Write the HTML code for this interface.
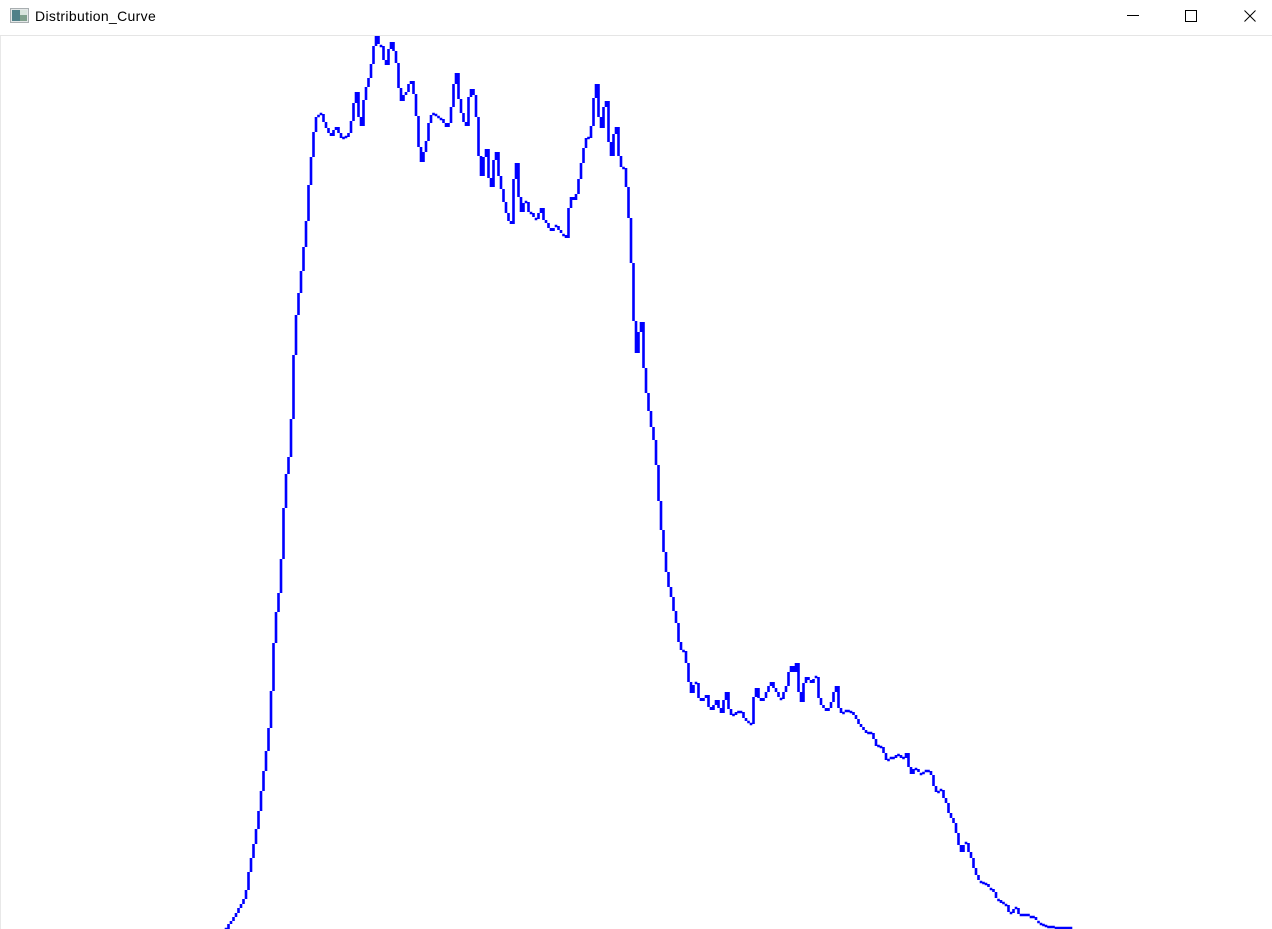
<!DOCTYPE html>
<html lang="en">
<head>
<meta charset="utf-8">
<title>Distribution_Curve</title>
<style>
html,body{margin:0;padding:0;background:#fff;width:1272px;height:929px;overflow:hidden}
#window{position:relative;width:1272px;height:929px;background:#fff;overflow:hidden}
#titlebar{position:absolute;left:0;top:0;width:1272px;height:35px;background:#fff;border-bottom:1px solid #e5e5e5}
#title{position:absolute;left:35px;top:7px;font:14px/18px "Liberation Sans",sans-serif;letter-spacing:.33px;color:#000;white-space:nowrap}
#left-edge{position:absolute;left:0;top:36px;width:1px;height:893px;background:#e8e8e8}
svg{position:absolute;left:0;top:0}
</style>
</head>
<body>
<div id="window">
  <div id="titlebar">
    <svg width="1272" height="35">
      <g>
        <rect x="10.5" y="8.5" width="18" height="14" fill="#e4e8e8" stroke="#a8aeb0"/>
        <rect x="12" y="10" width="8" height="11" fill="#4f8088"/>
        <rect x="20" y="10" width="7" height="5" fill="#d8e4dc"/>
        <rect x="20" y="15" width="7" height="6" fill="#7fa08c"/>
      </g>
      <rect x="1127" y="15" width="12" height="1" fill="#000"/>
      <rect x="1185.5" y="10.5" width="11" height="11" fill="none" stroke="#000"/>
      <path d="M1244.5 10.5L1255.5 21.5M1255.5 10.5L1244.5 21.5" stroke="#000" fill="none"/>
    </svg>
    <div id="title">Distribution_Curve</div>
  </div>
  <div id="left-edge"></div>
  <svg id="chart" width="1272" height="929"></svg>
</div>
<script>
const binValues = [
0,5,8,12,16,21,25,30,39,57,71,85,100,118,138,158,178,201,238,286,
317,336,370,421,455,472,510,574,614,636,658,682,708,744,772,797,812,813,815,807,
801,796,793,799,802,796,791,791,792,796,808,826,837,812,803,829,842,851,865,883,
893,885,883,869,864,880,887,878,866,841,828,834,837,845,848,835,813,782,767,777,
788,806,814,815,814,812,810,806,802,806,822,845,856,830,816,807,803,832,840,834,
812,773,753,772,780,751,742,769,777,753,740,727,716,708,705,750,766,732,717,726,
727,717,716,712,710,716,721,709,706,701,698,701,703,699,696,694,691,721,732,729,
735,750,766,781,791,791,803,831,845,812,801,822,828,787,773,795,802,773,762,761,
742,711,666,608,576,597,607,561,536,518,502,489,464,428,399,377,357,342,332,318,
306,287,279,278,266,247,236,244,246,231,228,231,234,222,219,224,229,221,216,229,
237,220,214,214,217,217,217,211,208,207,205,232,241,231,228,231,237,243,247,241,
237,232,230,237,243,257,263,257,266,237,227,246,252,249,246,250,252,231,224,221,
218,221,227,237,243,221,216,216,218,218,217,214,210,205,202,199,196,196,196,190,
183,183,182,176,169,169,171,171,174,174,171,171,176,162,155,160,160,157,155,156,
158,158,154,143,137,137,139,131,126,116,111,106,96,84,77,84,86,77,71,61,
54,49,47,46,45,42,40,37,31,29,26,26,24,17,16,20,21,15,14,14,
14,14,12,12,9,7,5,4,3,2,2,2,1,1,1,1,1,1,1
];

const xOrigin = 226;
const binWidth = 2.5;
const baselineY = 929;
const unitHeight = 1;

function xAxis(binIndex) {
  return xOrigin + binIndex * binWidth;
}
function yAxis(value) {
  return baselineY - value * unitHeight;
}

const chart = document.getElementById('chart');
const curve = document.createElementNS('http://www.w3.org/2000/svg', 'path');
let d = '';
for (let i = 0; i < binValues.length; i++) {
  const x = xAxis(i);
  const end = yAxis(binValues[i]);
  const prev = i > 0 ? yAxis(binValues[i - 1]) : end;
  const delta = end - prev;
  let y0;
  let y1;
  if (Math.abs(delta) < 2.5) {
    y0 = end - 1.2;
    y1 = end + 1.2;
  } else {
    y0 = prev;
    y1 = end;
  }
  d += 'M' + x + ' ' + y0 + 'V' + y1;
}
curve.setAttribute('d', d);
curve.setAttribute('fill', 'none');
curve.setAttribute('stroke', '#0000ff');
curve.setAttribute('stroke-width', '2.6');


chart.appendChild(curve);
</script>
</body>
</html>
